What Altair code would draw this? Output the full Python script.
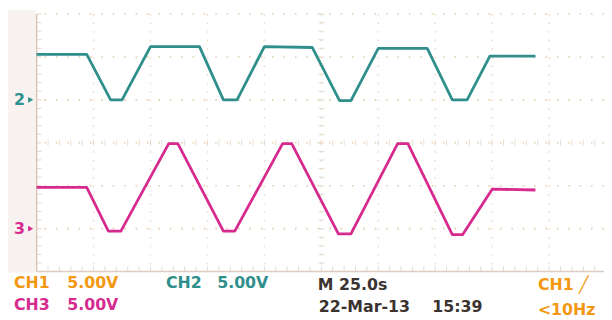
import altair as alt
import pandas as pd
import numpy as np

# ---- Oscilloscope readings (time in s, volts) ----
ch2_time = [0, 22, 32.5, 37.5, 50, 71.5, 82, 88, 100, 121, 133, 138, 150, 171.5, 182.5, 189, 199, 219]
ch2_volts = [5.3, 5.3, 0, 0, 6.2, 6.2, 0, 0, 6.2, 6.1, -0.1, -0.1, 6.0, 6.0, 0, 0, 5.1, 5.1]

ch3_time = [0, 22, 31.5, 37, 58, 62, 82, 87, 108, 112, 132.5, 138, 158.5, 163, 182.5, 187, 200, 219]
ch3_volts = [4.8, 4.8, -0.3, -0.3, 9.9, 9.9, -0.3, -0.3, 9.9, 9.9, -0.6, -0.6, 9.9, 9.9, -0.7, -0.7, 4.6, 4.5]

channels = ["CH2", "CH3"]
ground_div = [4.0, 1.0]          # ground marker level of each channel (divisions)
volts_per_div = 5.0
sec_per_div = 25.0
marker_labels = ["2", "3"]

TEAL = "#2f8f8c"
MAGENTA = "#d62a8e"
ORANGE = "#f39812"
DARK = "#3a3330"

# ---- tables ----
rows = []
for ch, ts, vs, g in [("CH2", ch2_time, ch2_volts, ground_div[0]),
                      ("CH3", ch3_time, ch3_volts, ground_div[1])]:
    for i, (t, v) in enumerate(zip(ts, vs)):
        rows.append({"ch": ch, "i": i, "t": t, "div": g + v / volts_per_div})
traces = pd.DataFrame(rows)

markers = pd.DataFrame({"ch": channels, "div": ground_div, "label": marker_labels})

x_max = 249.1
xs = alt.Scale(domain=[0, x_max], nice=False, zero=False)
ys = alt.Scale(domain=[0, 6], nice=False, zero=False)
cs = alt.Scale(domain=channels, range=[TEAL, MAGENTA])

dummy = pd.DataFrame({"a": [0]})

strip = alt.Chart(dummy).mark_rect(color="#f8f3f0").encode(
    x=alt.value(-29), x2=alt.value(-1), y=alt.value(-4), y2=alt.value(262))

vgrid = alt.Chart(pd.DataFrame({"t": [sec_per_div * k for k in range(1, 10)]})).mark_rule(
    color="#e6cdb0", strokeWidth=1.5, strokeDash=[1.5, 7.2], opacity=0.75
).encode(x=alt.X("t:Q", scale=xs, axis=None))

hgrid = alt.Chart(pd.DataFrame({"y": [1, 2, 3, 4, 5, 6]})).mark_rule(
    color="#e3c29c", strokeWidth=1.6, strokeDash=[1.6, 9.94], opacity=0.85
).encode(y=alt.Y("y:Q", scale=ys, axis=None))

minor_y = np.round(np.arange(0, 6.01, 0.2), 2)
minor_t = np.round(np.arange(0, x_max, sec_per_div / 5), 2)

center_v_ticks = alt.Chart(pd.DataFrame({"t": 125.0, "y": minor_y})).mark_tick(
    orient="horizontal", size=6, thickness=1, color="#dfcdbf"
).encode(x=alt.X("t:Q", scale=xs, axis=None), y=alt.Y("y:Q", scale=ys, axis=None))

center_h_ticks = alt.Chart(pd.DataFrame({"t": minor_t, "y": 3.0})).mark_tick(
    orient="vertical", size=6, thickness=1, color="#dfcdbf"
).encode(x=alt.X("t:Q", scale=xs, axis=None), y=alt.Y("y:Q", scale=ys, axis=None))

left_ticks = alt.Chart(pd.DataFrame({"t": 0.0, "y": minor_y})).mark_tick(
    orient="horizontal", size=5, thickness=1, color="#d9c4b8", xOffset=2.5
).encode(x=alt.X("t:Q", scale=xs, axis=None), y=alt.Y("y:Q", scale=ys, axis=None))

bottom_ticks = alt.Chart(pd.DataFrame({"t": minor_t, "y": 0.0})).mark_tick(
    orient="vertical", size=5, thickness=1, color="#d9c9bf", yOffset=-2.5
).encode(x=alt.X("t:Q", scale=xs, axis=None), y=alt.Y("y:Q", scale=ys, axis=None))

left_border = alt.Chart(pd.DataFrame({"t": [0.0]})).mark_rule(
    color="#dcc2b8", strokeWidth=1.5).encode(x=alt.X("t:Q", scale=xs, axis=None))
bottom_border = alt.Chart(pd.DataFrame({"y": [0.0]})).mark_rule(
    color="#dcccc2", strokeWidth=1.5).encode(y=alt.Y("y:Q", scale=ys, axis=None))

lines = alt.Chart(traces).mark_line(strokeWidth=2.8, strokeJoin="round").encode(
    x=alt.X("t:Q", scale=xs, axis=None),
    y=alt.Y("div:Q", scale=ys, axis=None),
    color=alt.Color("ch:N", scale=cs, legend=None),
    order="i:Q",
    detail="ch:N",
)

marker_text = alt.Chart(markers).mark_text(
    align="left", baseline="middle", font="DejaVu Sans", fontWeight="bold", fontSize=16
).encode(
    x=alt.value(-23),
    y=alt.Y("div:Q", scale=ys, axis=None),
    text="label:N",
    color=alt.Color("ch:N", scale=cs, legend=None),
)
marker_tri = alt.Chart(markers).mark_point(shape="triangle-right", filled=True, size=36, opacity=1).encode(
    x=alt.value(-6),
    y=alt.Y("div:Q", scale=ys, axis=None),
    color=alt.Color("ch:N", scale=cs, legend=None),
)


def label(text, x, y, color):
    return alt.Chart(dummy).mark_text(
        text=text, align="left", baseline="middle", font="DejaVu Sans",
        fontWeight="bold", fontSize=16, color=color
    ).encode(x=alt.value(x), y=alt.value(y))


labels = [
    label("CH1", -23, 273, ORANGE),
    label("5.00V", 31, 273, ORANGE),
    label("CH2", 131, 273, TEAL),
    label("5.00V", 183, 273, TEAL),
    label("CH3", -23, 295, MAGENTA),
    label("5.00V", 31, 295, MAGENTA),
    label("M 25.0s", 285, 275, DARK),
    label("22-Mar-13", 286, 297, DARK),
    label("15:39", 401, 297, DARK),
    label("CH1 \u2571", 508, 275, ORANGE),
    label("<10Hz", 508, 300, ORANGE),
]

chart = alt.layer(
    strip, vgrid, hgrid, center_v_ticks, center_h_ticks, left_ticks, bottom_ticks,
    left_border, bottom_border, lines, marker_text, marker_tri, *labels
).properties(
    width=575, height=261,
    autosize=alt.AutoSizeParams(type="none"),
    padding={"left": 29, "top": 4, "right": 0, "bottom": 47},
    background="white",
).configure_view(stroke=None, fill="white")

chart.save("out.html", embed_options={"renderer": "svg", "actions": False})
